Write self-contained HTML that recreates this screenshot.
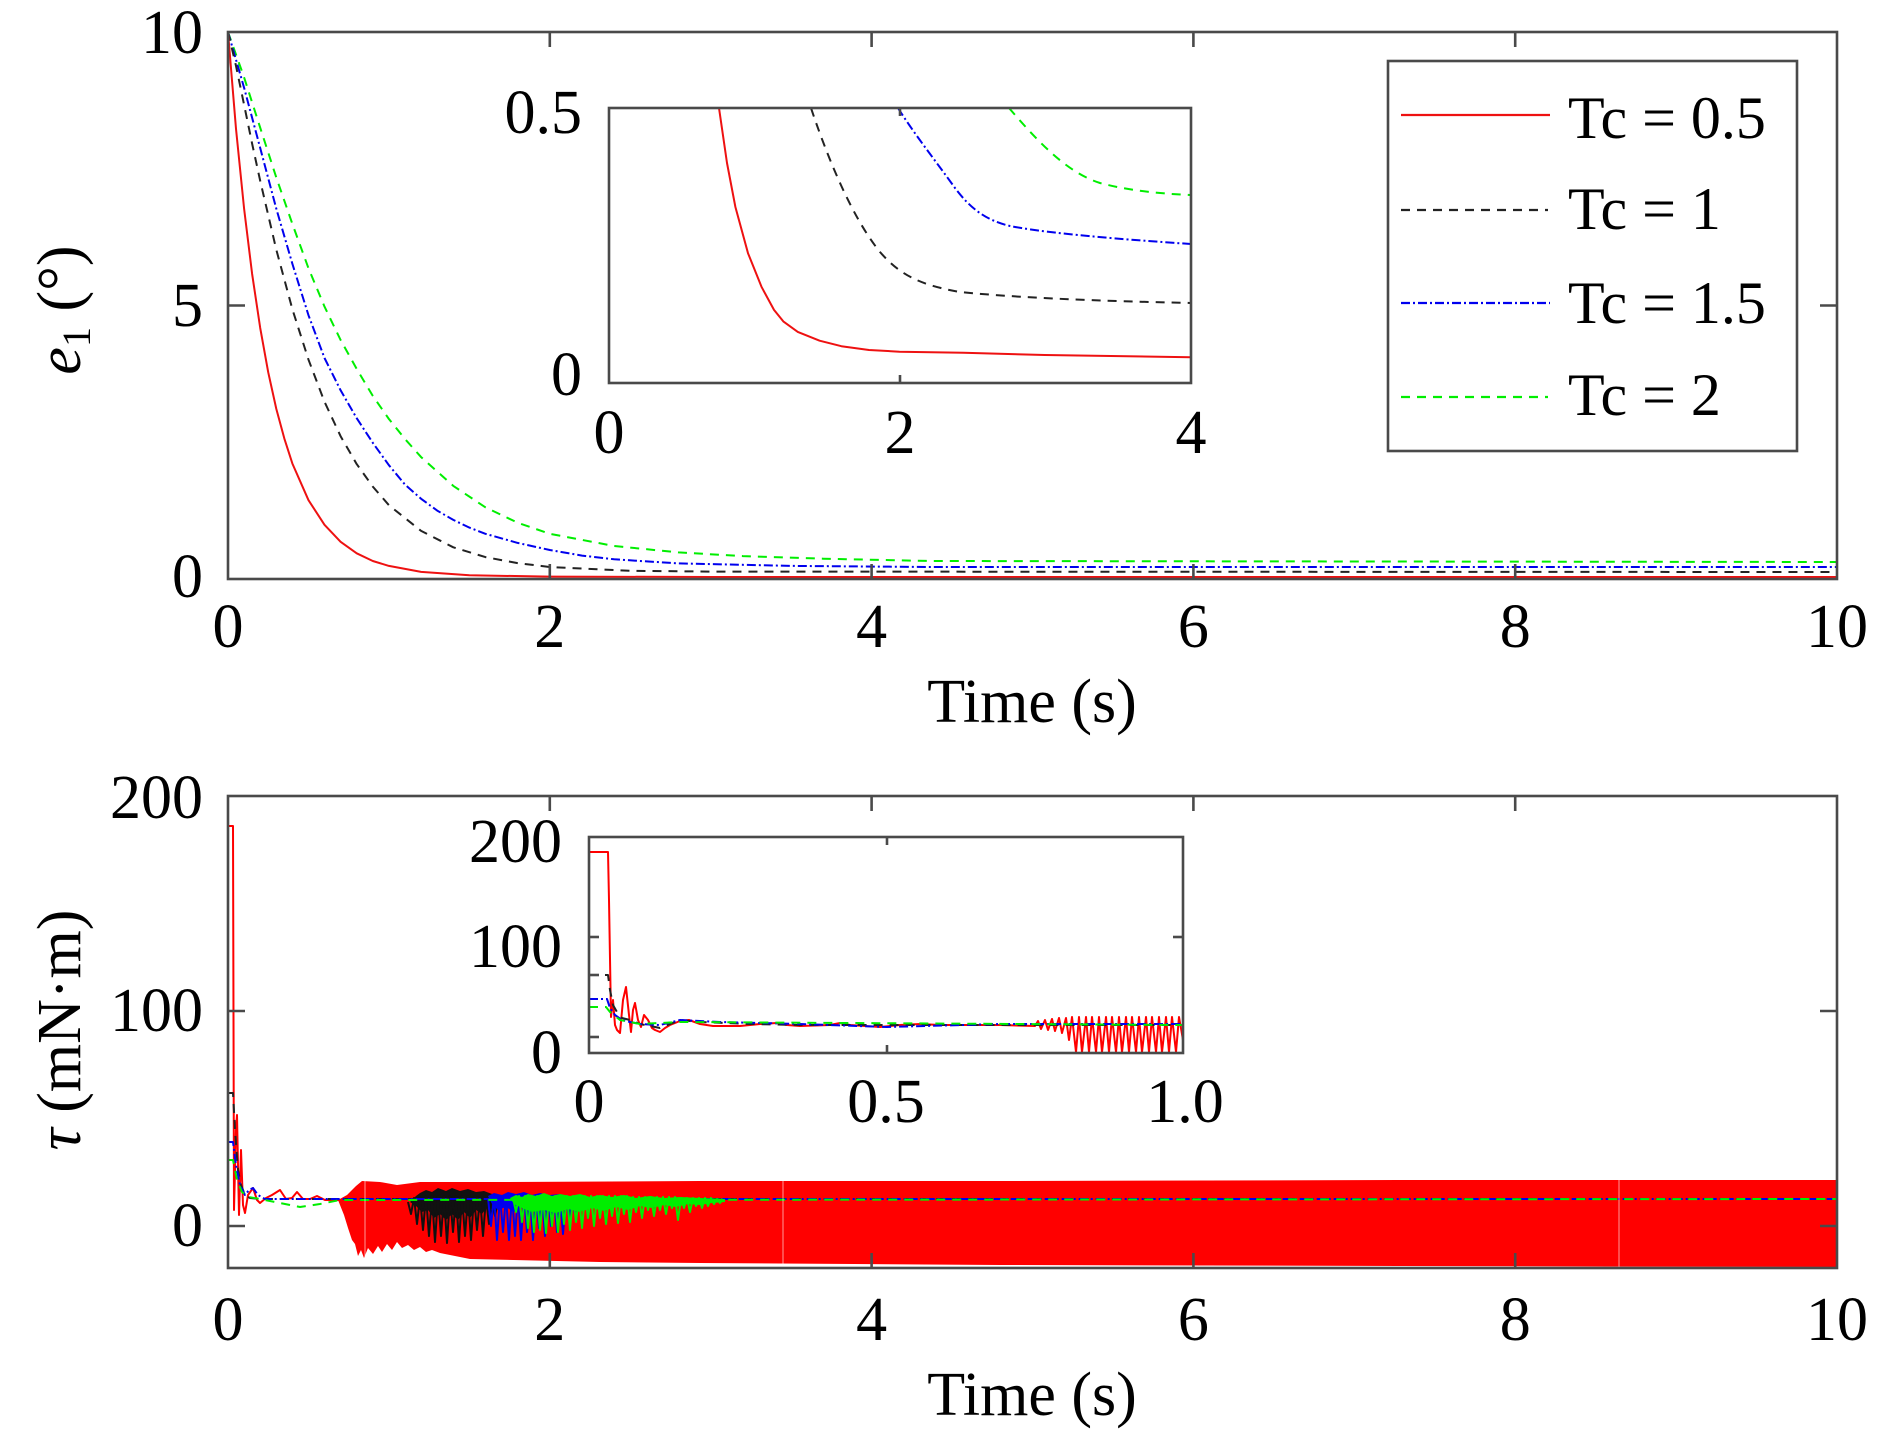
<!DOCTYPE html>
<html><head><meta charset="utf-8"><style>
html,body{margin:0;padding:0;background:#fff;}
svg{display:block;}
text{font-family:"Liberation Serif","Times New Roman",serif;fill:#000;}
</style></head><body>
<svg width="1890" height="1431" viewBox="0 0 1890 1431" xmlns="http://www.w3.org/2000/svg">
<defs>
<clipPath id="c1"><rect x="228" y="32" width="1609" height="547"/></clipPath>
<clipPath id="c2"><rect x="228" y="796" width="1609" height="472"/></clipPath>
<clipPath id="c3"><rect x="609" y="108" width="582" height="275"/></clipPath>
<clipPath id="c4"><rect x="589" y="837" width="594" height="216"/></clipPath>
</defs>
<rect width="1890" height="1431" fill="#fff"/>

<!-- ============ TOP PLOT ============ -->
<g clip-path="url(#c1)" fill="none" stroke-width="2" stroke-linejoin="round">
<polyline stroke="#00ee00" stroke-dasharray="9 7" points="228,32 244.1,77.4 260.2,127.7 276.3,177.5 292.4,224 308.5,268.3 324.5,306.6 340.6,340 356.7,368.9 372.8,395.9 388.9,419 405,439 421.1,457.1 453.3,485.9 485.4,507.3 517.6,522.7 549.8,533.8 614.2,546 678.5,552.4 742.9,556.1 823.3,558.7 930,561 1837,562"/>
<polyline stroke="#0000ee" stroke-dasharray="9 3 2 3" points="228,32 244.1,87.8 260.2,148 276.3,208.7 292.4,263.9 308.5,315.3 324.5,358 340.6,390.3 356.7,418.2 372.8,442.8 388.9,465.2 405,484.6 421.1,498.8 437.2,510.6 453.3,519.9 469.4,527.6 485.4,533.8 517.6,542.9 549.8,550 582,555.6 614.2,559.3 678.5,563.4 791.2,565.9 930,567 1837,567"/>
<polyline stroke="#222" stroke-dasharray="9 7" points="228,32 236,65.9 244.1,104.8 252.1,143.6 260.2,180.8 276.3,249.7 292.4,309.3 308.5,359.7 324.5,401.8 340.6,436.2 356.7,464.1 372.8,486.6 388.9,505.2 421.1,530.9 453.3,547.3 485.4,557.1 517.6,563.1 549.8,567 630.3,570.8 710.7,571.6 1837,572"/>
<polyline stroke="#ee1111" points="228,32 236,128.8 244.1,208.7 252.1,273.8 260.2,327.9 268.2,372.2 276.3,408.9 284.3,438.4 292.4,463.6 308.5,500.2 324.5,524.8 340.6,541.8 356.7,553.3 372.8,561 388.9,565.9 421.1,571.9 469.4,575.3 549.8,576.6 710.7,577 1837,577"/>
</g>
<rect x="228" y="32" width="1609" height="547" fill="none" stroke="#4a4a4a" stroke-width="2.6"/>
<g stroke="#4a4a4a" stroke-width="2.6">
<line x1="549.8" y1="32" x2="549.8" y2="47"/><line x1="871.6" y1="32" x2="871.6" y2="47"/><line x1="1193.4" y1="32" x2="1193.4" y2="47"/><line x1="1515.2" y1="32" x2="1515.2" y2="47"/>
<line x1="549.8" y1="579" x2="549.8" y2="564"/><line x1="871.6" y1="579" x2="871.6" y2="564"/><line x1="1193.4" y1="579" x2="1193.4" y2="564"/><line x1="1515.2" y1="579" x2="1515.2" y2="564"/>
<line x1="228" y1="305.5" x2="245" y2="305.5"/><line x1="1837" y1="305.5" x2="1820" y2="305.5"/>
</g>
<g font-size="62" text-anchor="end">
<text x="203" y="53">10</text><text x="203" y="326">5</text><text x="203" y="597">0</text>
</g>
<g font-size="62" text-anchor="middle">
<text x="228" y="647">0</text><text x="549.8" y="647">2</text><text x="871.6" y="647">4</text><text x="1193.4" y="647">6</text><text x="1515.2" y="647">8</text><text x="1837" y="647">10</text>
<text x="1032" y="722">Time (s)</text>
</g>
<text transform="translate(80,310) rotate(-90)" font-size="62" text-anchor="middle"><tspan font-style="italic">e</tspan><tspan font-size="40" dy="10">1</tspan><tspan dy="-10"> (°)</tspan></text>

<!-- top inset -->
<rect x="609" y="108" width="582" height="275" fill="#fff"/>
<g clip-path="url(#c3)" fill="none" stroke-width="2" stroke-linejoin="round">
<path stroke="#00ee00" stroke-dasharray="9 7" d="M1009,108 C1035,138 1065,172 1100,183 C1130,191 1165,194 1191,195"/>
<path stroke="#0000ee" stroke-dasharray="9 3 2 3" d="M898,108 C915,135 935,160 955,188 C970,208 985,220 1010,226 C1040,232 1100,238 1191,244"/>
<path stroke="#222" stroke-dasharray="9 7" d="M811,108 C825,150 850,215 880,252 C900,275 920,285 960,292 C1020,298 1100,301 1191,303"/>
<polyline stroke="#ee1111" points="719,108 727,163 735.4,207 748,253.2 761.5,286.8 774,309.9 783.3,321.4 797.8,331.9 819.6,340.7 841.4,346.2 869,350 899.5,351.7 963.4,352.8 1044.8,355 1191,357.2"/>
</g>
<rect x="609" y="108" width="582" height="275" fill="none" stroke="#4a4a4a" stroke-width="2.6"/>
<g stroke="#4a4a4a" stroke-width="2.6"><line x1="900" y1="383" x2="900" y2="375"/><line x1="900" y1="108" x2="900" y2="116"/></g>
<g font-size="62">
<text x="582" y="133" text-anchor="end">0.5</text><text x="582" y="395" text-anchor="end">0</text>
<text x="609" y="453" text-anchor="middle">0</text><text x="900" y="453" text-anchor="middle">2</text><text x="1191" y="453" text-anchor="middle">4</text>
</g>

<!-- legend -->
<rect x="1388" y="61" width="409" height="390" fill="#fff" stroke="#4a4a4a" stroke-width="2.6"/>
<g stroke-width="2.2" fill="none">
<line x1="1401" y1="115" x2="1550" y2="115" stroke="#ee1111"/>
<line x1="1401" y1="210" x2="1548" y2="210" stroke="#222" stroke-dasharray="9 7"/>
<line x1="1401" y1="303" x2="1550" y2="303" stroke="#0000ee" stroke-dasharray="9 3 2 3"/>
<line x1="1401" y1="397" x2="1548" y2="397" stroke="#00ee00" stroke-dasharray="9 7"/>
</g>
<g font-size="60">
<text x="1568" y="138">Tc = 0.5</text><text x="1568" y="229">Tc = 1</text><text x="1568" y="323">Tc = 1.5</text><text x="1568" y="415">Tc = 2</text>
</g>

<!-- ============ BOTTOM PLOT ============ -->
<g clip-path="url(#c2)" stroke-linejoin="round">
<!-- red band -->
<polygon fill="#ff0000" points="338,1200 347,1195 352,1190 356,1186 362,1181 380,1182 397,1185 420,1182 500,1182 700,1181 1000,1181 1400,1180 1837,1180 1837,1267 1400,1266 1000,1265 700,1263 600,1262 470,1259 450,1255 440,1253 432,1250 426,1252 420,1247 414,1250 408,1245 402,1248 397,1242 392,1250 387,1244 382,1252 378,1246 373,1254 368,1248 364,1258 361,1250 358,1256 355,1244 352,1240 348,1228 344,1215 340,1205"/>
<polyline fill="none" stroke="#ff0000" stroke-width="2" points="228,826 233,826 234,1210 236,1130 237,1115 239,1215 241,1150 243,1205 245,1213 248,1195 253,1188 257,1200 260,1203 266,1198 272,1195 280,1190 286,1199 292,1198 297,1192 303,1199 310,1199 317,1196 325,1200 340,1200"/>
<!-- black -->
<polygon fill="#111" points="410,1202 416,1196 420,1193 426,1190 432,1192 438,1188 446,1191 452,1188 460,1191 468,1189 476,1192 484,1191 492,1194 500,1196 500,1204 494,1210 488,1206 482,1214 476,1210 470,1218 464,1212 458,1220 452,1214 446,1220 440,1214 434,1218 428,1210 422,1212 416,1206"/>
<polyline fill="none" stroke="#111" stroke-width="2" points="408,1202 411,1214 414,1198 417,1224 420,1197 423,1230 426,1196 429,1236 432,1196 435,1242 438,1196 441,1236 444,1196 447,1243 450,1196 453,1232 456,1196 459,1242 462,1196 465,1236 468,1196 471,1240 474,1197 477,1230 480,1197 483,1236 486,1198 489,1224 492,1199 495,1216 498,1200"/>
<polyline fill="none" stroke="#222" stroke-width="2" stroke-dasharray="9 7" points="228,1093 233,1093 235,1130 238,1170 241,1185 245,1195 250,1198 260,1199 1837,1199"/>
<!-- blue -->
<polygon fill="#0000ee" points="488,1196 494,1193 502,1195 508,1192 516,1194 524,1192 532,1195 540,1193 550,1195 560,1194 570,1197 586,1199 586,1203 578,1206 570,1204 562,1210 554,1206 546,1212 538,1207 530,1213 522,1208 514,1212 506,1207 498,1210 492,1204"/>
<polyline fill="none" stroke="#0000ee" stroke-width="2" points="488,1198 491,1226 494,1196 497,1240 500,1196 503,1232 506,1196 509,1240 512,1196 515,1236 518,1196 521,1240 524,1196 527,1232 530,1196 533,1240 536,1196 539,1228 542,1196 545,1236 548,1196 551,1226 554,1196 557,1232 560,1197 563,1234 566,1197 569,1218 572,1198 575,1214 578,1198 581,1208 584,1199"/>
<polyline fill="none" stroke="#0000ee" stroke-width="2" stroke-dasharray="9 3 2 3" points="228,1142 233,1142 236,1165 240,1185 245,1195 249,1190 253,1188 258,1195 265,1199 1837,1199"/>
<!-- green -->
<polygon fill="#00ee00" points="510,1198 516,1195 522,1197 528,1194 536,1196 544,1193 552,1196 560,1194 570,1196 580,1194 590,1197 600,1195 612,1197 624,1195 636,1198 650,1196 664,1198 680,1197 700,1198 725,1199 725,1202 712,1203 700,1205 688,1204 676,1207 664,1205 652,1208 640,1206 628,1210 616,1207 604,1211 592,1208 580,1212 568,1209 556,1213 544,1210 532,1212 522,1208 514,1204"/>
<polyline fill="none" stroke="#00ee00" stroke-width="2" points="513,1198 516,1212 519,1196 522,1222 525,1196 528,1228 531,1196 534,1232 537,1196 540,1230 543,1196 546,1233 549,1196 552,1226 555,1196 558,1232 561,1196 564,1224 567,1196 570,1230 573,1196 576,1222 579,1196 582,1228 585,1196 588,1218 591,1196 594,1226 597,1196 600,1218 603,1196 606,1224 609,1196 612,1216 615,1196 618,1223 621,1196 624,1214 627,1196 630,1222 633,1197 636,1212 639,1197 642,1218 645,1197 648,1210 651,1197 654,1216 657,1197 660,1210 663,1197 666,1214 669,1197 672,1208 675,1197 678,1220 681,1198 684,1208 687,1198 690,1212 693,1198 696,1206 699,1198 702,1208 705,1198 708,1206 711,1198 714,1204 717,1199 720,1203 723,1199"/>
<polyline fill="none" stroke="#00ee00" stroke-width="2" stroke-dasharray="9 7" points="228,1160 233,1160 237,1180 242,1192 248,1197 260,1199 280,1203 300,1207 320,1204 340,1200 1837,1199"/>
<g stroke="#fff" stroke-width="1" opacity="0.6"><line x1="365" y1="1180" x2="365" y2="1268"/><line x1="783" y1="1180" x2="783" y2="1268"/><line x1="1619" y1="1180" x2="1619" y2="1268"/></g>
</g>
<rect x="228" y="796" width="1609" height="472" fill="none" stroke="#4a4a4a" stroke-width="2.6"/>
<g stroke="#4a4a4a" stroke-width="2.6">
<line x1="549.8" y1="796" x2="549.8" y2="811"/><line x1="871.6" y1="796" x2="871.6" y2="811"/><line x1="1193.4" y1="796" x2="1193.4" y2="811"/><line x1="1515.2" y1="796" x2="1515.2" y2="811"/>
<line x1="549.8" y1="1268" x2="549.8" y2="1253"/><line x1="871.6" y1="1268" x2="871.6" y2="1253"/><line x1="1193.4" y1="1268" x2="1193.4" y2="1253"/><line x1="1515.2" y1="1268" x2="1515.2" y2="1253"/>
<line x1="228" y1="1011" x2="245" y2="1011"/><line x1="1837" y1="1011" x2="1820" y2="1011"/>
<line x1="228" y1="1226" x2="245" y2="1226"/><line x1="1837" y1="1226" x2="1820" y2="1226"/>
</g>
<g font-size="62" text-anchor="end">
<text x="203" y="818">200</text><text x="203" y="1031">100</text><text x="203" y="1246">0</text>
</g>
<g font-size="62" text-anchor="middle">
<text x="228" y="1340">0</text><text x="549.8" y="1340">2</text><text x="871.6" y="1340">4</text><text x="1193.4" y="1340">6</text><text x="1515.2" y="1340">8</text><text x="1837" y="1340">10</text>
<text x="1032" y="1415">Time (s)</text>
</g>
<text transform="translate(80,1030) rotate(-90)" font-size="62" text-anchor="middle"><tspan font-style="italic">τ</tspan> (mN·m)</text>

<!-- bottom inset -->
<rect x="589" y="837" width="594" height="216" fill="#fff"/>
<g clip-path="url(#c4)" fill="none" stroke-width="2" stroke-linejoin="round">
<polyline stroke="#ff0000" points="589,852 608,852 609,900 611,1017 613,1000 615,1025 617,1030 620,1033 623,1000 626,987 629,1015 631,1032 633,1010 635,1003 638,1020 641,1027 644,1015 648,1020 652,1028 655,1030 660,1032 665,1028 670,1025 680,1021 689,1020 700,1024 713,1026 740,1026 760,1024 777,1023 787,1025 800,1026 830,1025 840,1023 850,1025 880,1027 900,1025 920,1024 940,1025 1000,1025 1035,1026 1038,1021 1041,1029 1045,1020 1048,1030 1052,1019 1055,1031 1059,1018 1062,1033 1066,1018 1069,1040 1072,1017 1076,1052 1079,1017 1082,1052 1086,1017 1089,1052 1092,1017 1096,1052 1099,1017 1102,1052 1106,1017 1109,1052 1112,1017 1116,1052 1119,1017 1122,1052 1126,1017 1129,1052 1132,1017 1136,1052 1139,1017 1142,1052 1146,1017 1149,1052 1152,1017 1156,1052 1159,1017 1162,1052 1166,1017 1169,1052 1172,1017 1176,1052 1179,1017 1183,1040"/>
<polyline stroke="#222" stroke-dasharray="9 7" points="589,975 608,975 610,990 613,1005 617,1012 622,1018 630,1020 640,1024 660,1028 680,1020 700,1022 750,1024 800,1025 1183,1025"/>
<polyline stroke="#0000ee" stroke-dasharray="9 3 2 3" points="589,999 607,999 610,1008 615,1015 622,1020 630,1022 640,1024 660,1025 680,1020 720,1022 800,1024 887,1027 1000,1024 1183,1024"/>
<polyline stroke="#00ee00" stroke-dasharray="9 7" points="589,1007 606,1007 610,1012 620,1020 640,1024 680,1022 1183,1025"/>
</g>
<rect x="589" y="837" width="594" height="216" fill="none" stroke="#4a4a4a" stroke-width="2.6"/>
<g stroke="#4a4a4a" stroke-width="2.6">
<line x1="589" y1="937" x2="599" y2="937"/><line x1="589" y1="975" x2="599" y2="975"/><line x1="589" y1="1037" x2="599" y2="1037"/>
<line x1="1183" y1="937" x2="1173" y2="937"/>
<line x1="887" y1="837" x2="887" y2="845"/><line x1="887" y1="1053" x2="887" y2="1045"/>
</g>
<g font-size="62">
<text x="562" y="862" text-anchor="end">200</text><text x="562" y="967" text-anchor="end">100</text><text x="562" y="1073" text-anchor="end">0</text>
<text x="589" y="1122" text-anchor="middle">0</text><text x="886" y="1122" text-anchor="middle">0.5</text><text x="1185" y="1122" text-anchor="middle">1.0</text>
</g>
</svg>
</body></html>
